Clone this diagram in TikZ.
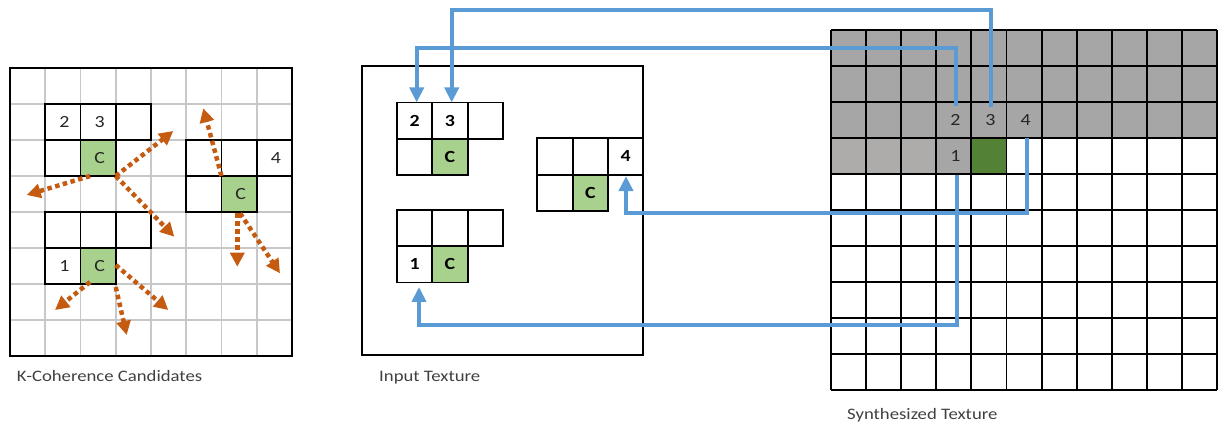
\documentclass[tikz,border=0pt]{standalone}
\usepackage{fontspec}
\setmainfont[FakeStretch=1.17]{Carlito}
\usetikzlibrary{arrows.meta}
\definecolor{lgreen}{HTML}{A9D18E}
\definecolor{dgreen}{HTML}{538135}
\definecolor{tgray}{HTML}{A6A6A6}
\definecolor{pgray}{HTML}{AEABAB}
\definecolor{gline}{HTML}{C8C8C8}
\definecolor{bluel}{HTML}{5B9BD5}
\definecolor{orangel}{HTML}{C55A11}
\definecolor{captxt}{HTML}{404040}
\definecolor{celltxt}{HTML}{262626}
\begin{document}
\begin{tikzpicture}[x=1pt,y=-1pt,
  lgridline/.style={draw=gline,line width=1.8pt},
  border/.style={draw=black,line width=1.9pt},
  lcell/.style={draw=black,line width=1.9pt,fill=white,minimum width=35.25pt,minimum height=36pt,inner sep=0pt,outer sep=0pt,font=\fontsize{17}{19}\selectfont,text=celltxt},
  lcenter/.style={lcell,fill=lgreen},
  mcell/.style={draw=black,line width=1.9pt,fill=white,minimum width=35.3pt,minimum height=36.3pt,inner sep=0pt,outer sep=0pt,font=\fontsize{17}{19}\selectfont\bfseries,text=black},
  mcenter/.style={mcell,fill=lgreen},
  rlabel/.style={minimum width=35.1pt,minimum height=36pt,inner sep=0pt,outer sep=0pt,font=\fontsize{17}{19}\selectfont,text=celltxt},
  caption/.style={anchor=base west,inner sep=0pt,font=\fontsize{16}{19}\selectfont,text=captxt},
  orangearrow/.style={draw=orangel,line width=4.5pt,dash pattern=on 4.5pt off 3.5pt,-{Triangle[width=14pt,length=14pt]}},
  bluearrow/.style={draw=bluel,line width=4pt,-{Triangle[width=14pt,length=15pt]}}
]
\useasboundingbox (0,0) rectangle (1230,426);

% ---------- left grid: K-Coherence candidates ----------
\foreach \i in {1,...,7} \draw[lgridline] (10+35.25*\i,68) -- (10+35.25*\i,356);
\foreach \j in {1,...,7} \draw[lgridline] (10,68+36*\j) -- (292,68+36*\j);
\draw[border] (10,68) rectangle (292,356);

% pattern A
\node[lcell] (kA2) at (62.9,122) {\kern3pt 2};
\node[lcell] (kA3) at (98.1,122) {\kern3pt 3};
\node[lcell] (kAx) at (133.4,122) {};
\node[lcell] (kAy) at (62.9,158) {};
\node[lcenter] (kAc) at (98.1,158) {\kern3pt C};
% pattern B
\node[lcell] (kBx) at (203.9,158) {};
\node[lcell] (kBy) at (239.1,158) {};
\node[lcell] (kB4) at (274.4,158) {\kern3pt 4};
\node[lcell] (kBz) at (203.9,194) {};
\node[lcenter] (kBc) at (239.1,194) {\kern3pt C};
% pattern C
\node[lcell] (kCx) at (62.9,230) {};
\node[lcell] (kCy) at (98.1,230) {};
\node[lcell] (kCz) at (133.4,230) {};
\node[lcell] (kC1) at (62.9,266) {\kern3pt 1};
\node[lcenter] (kCc) at (98.1,266) {\kern3pt C};

% orange candidate arrows
\coordinate (tA1) at (26.7,195);
\coordinate (tA2) at (173.3,131);
\coordinate (tA3) at (174.3,236.7);
\coordinate (tB1) at (203.3,108.3);
\coordinate (tB2) at (237.3,266.7);
\coordinate (tB3) at (280,273.3);
\coordinate (tC1) at (55,310);
\coordinate (tC2) at (126.7,335);
\coordinate (tC3) at (168.3,310);
\draw[orangearrow] ([xshift=-8pt]kAc.south) -- (tA1);
\draw[orangearrow] (kAc.south east) -- (tA2);
\draw[orangearrow] (kAc.south east) -- (tA3);
\draw[orangearrow] (kBc.north west) -- (tB1);
\draw[orangearrow] ([shift={(-1.8,1.3)}]kBc.south) -- (tB2);
\draw[orangearrow] ([shift={(1,1.3)}]kBc.south) -- (tB3);
\draw[orangearrow] ([xshift=-8pt,yshift=2pt]kCc.south) -- (tC1);
\draw[orangearrow] ([yshift=-3pt]kCc.south east) -- (tC2);
\draw[orangearrow] ([yshift=1pt]kCc.east) -- (tC3);

% ---------- middle: input texture ----------
\draw[border] (362,66) rectangle (643,355);
% pattern A
\node[mcell] (mA2) at (414.7,120.6) {2};
\node[mcell] (mA3) at (450,120.6) {3};
\node[mcell] (mAx) at (485.3,120.6) {};
\node[mcell] (mAy) at (414.7,156.9) {};
\node[mcenter] (mAc) at (450,156.9) {C};
% pattern B
\node[mcell] (mBx) at (555,156.4) {};
\node[mcell] (mBy) at (590.3,156.4) {};
\node[mcell] (mB4) at (625.6,156.4) {4};
\node[mcell] (mBz) at (555,192.7) {};
\node[mcenter] (mBc) at (590.3,192.7) {C};
% pattern C
\node[mcell] (mCx) at (414.7,228) {};
\node[mcell] (mCy) at (450,228) {};
\node[mcell] (mCz) at (485.3,228) {};
\node[mcell] (mC1) at (414.7,264.3) {1};
\node[mcenter] (mCc) at (450,264.3) {C};

% ---------- right: synthesized texture ----------
\fill[tgray] (831,30) rectangle (1217.1,138);
\fill[pgray] (831,138) rectangle (936.3,174);
\fill[tgray] (936.3,138) rectangle (971.4,174);
\fill[dgreen] (971.4,138) rectangle (1006.5,174);
\foreach \i in {0,...,11} \draw[border] (831+35.1*\i,30) -- (831+35.1*\i,390);
\foreach \j in {0,...,10} \draw[border] (831,30+36*\j) -- (1217.1,30+36*\j);
\node[rlabel] (r2) at (953.85,120) {\kern3pt 2};
\node[rlabel] (r3) at (988.95,120) {\kern3pt 3};
\node[rlabel] (r4) at (1024.05,120) {\kern3pt 4};
\node[rlabel] (r1) at (953.85,156) {\kern3pt 1};

% ---------- blue connectors ----------
\draw[bluearrow] ([shift={(1.7,5)}]r3.north) -- ++(0,-97) -| ([xshift=1.7pt]mA3.north);
\draw[bluearrow] ([shift={(1.9,4)}]r2.north) -- ++(0,-58) -| ([xshift=2pt]mA2.north);
\draw[bluearrow] ([xshift=3.2pt]r4.south) -- ++(0,75) -| ([shift={(0.4,1.5)}]mB4.south);
\draw[bluearrow] ([shift={(3.2,1)}]r1.south) -- ++(0,149.5) -| ([shift={(4.3,4.5)}]mC1.south);

% ---------- captions ----------
\node[caption] (capK) at (16.7,381) {K-Coherence Candidates};
\node[caption] (capI) at (379,381) {Input Texture};
\node[caption] (capS) at (847,419) {Synthesized Texture};
\end{tikzpicture}
\end{document}
